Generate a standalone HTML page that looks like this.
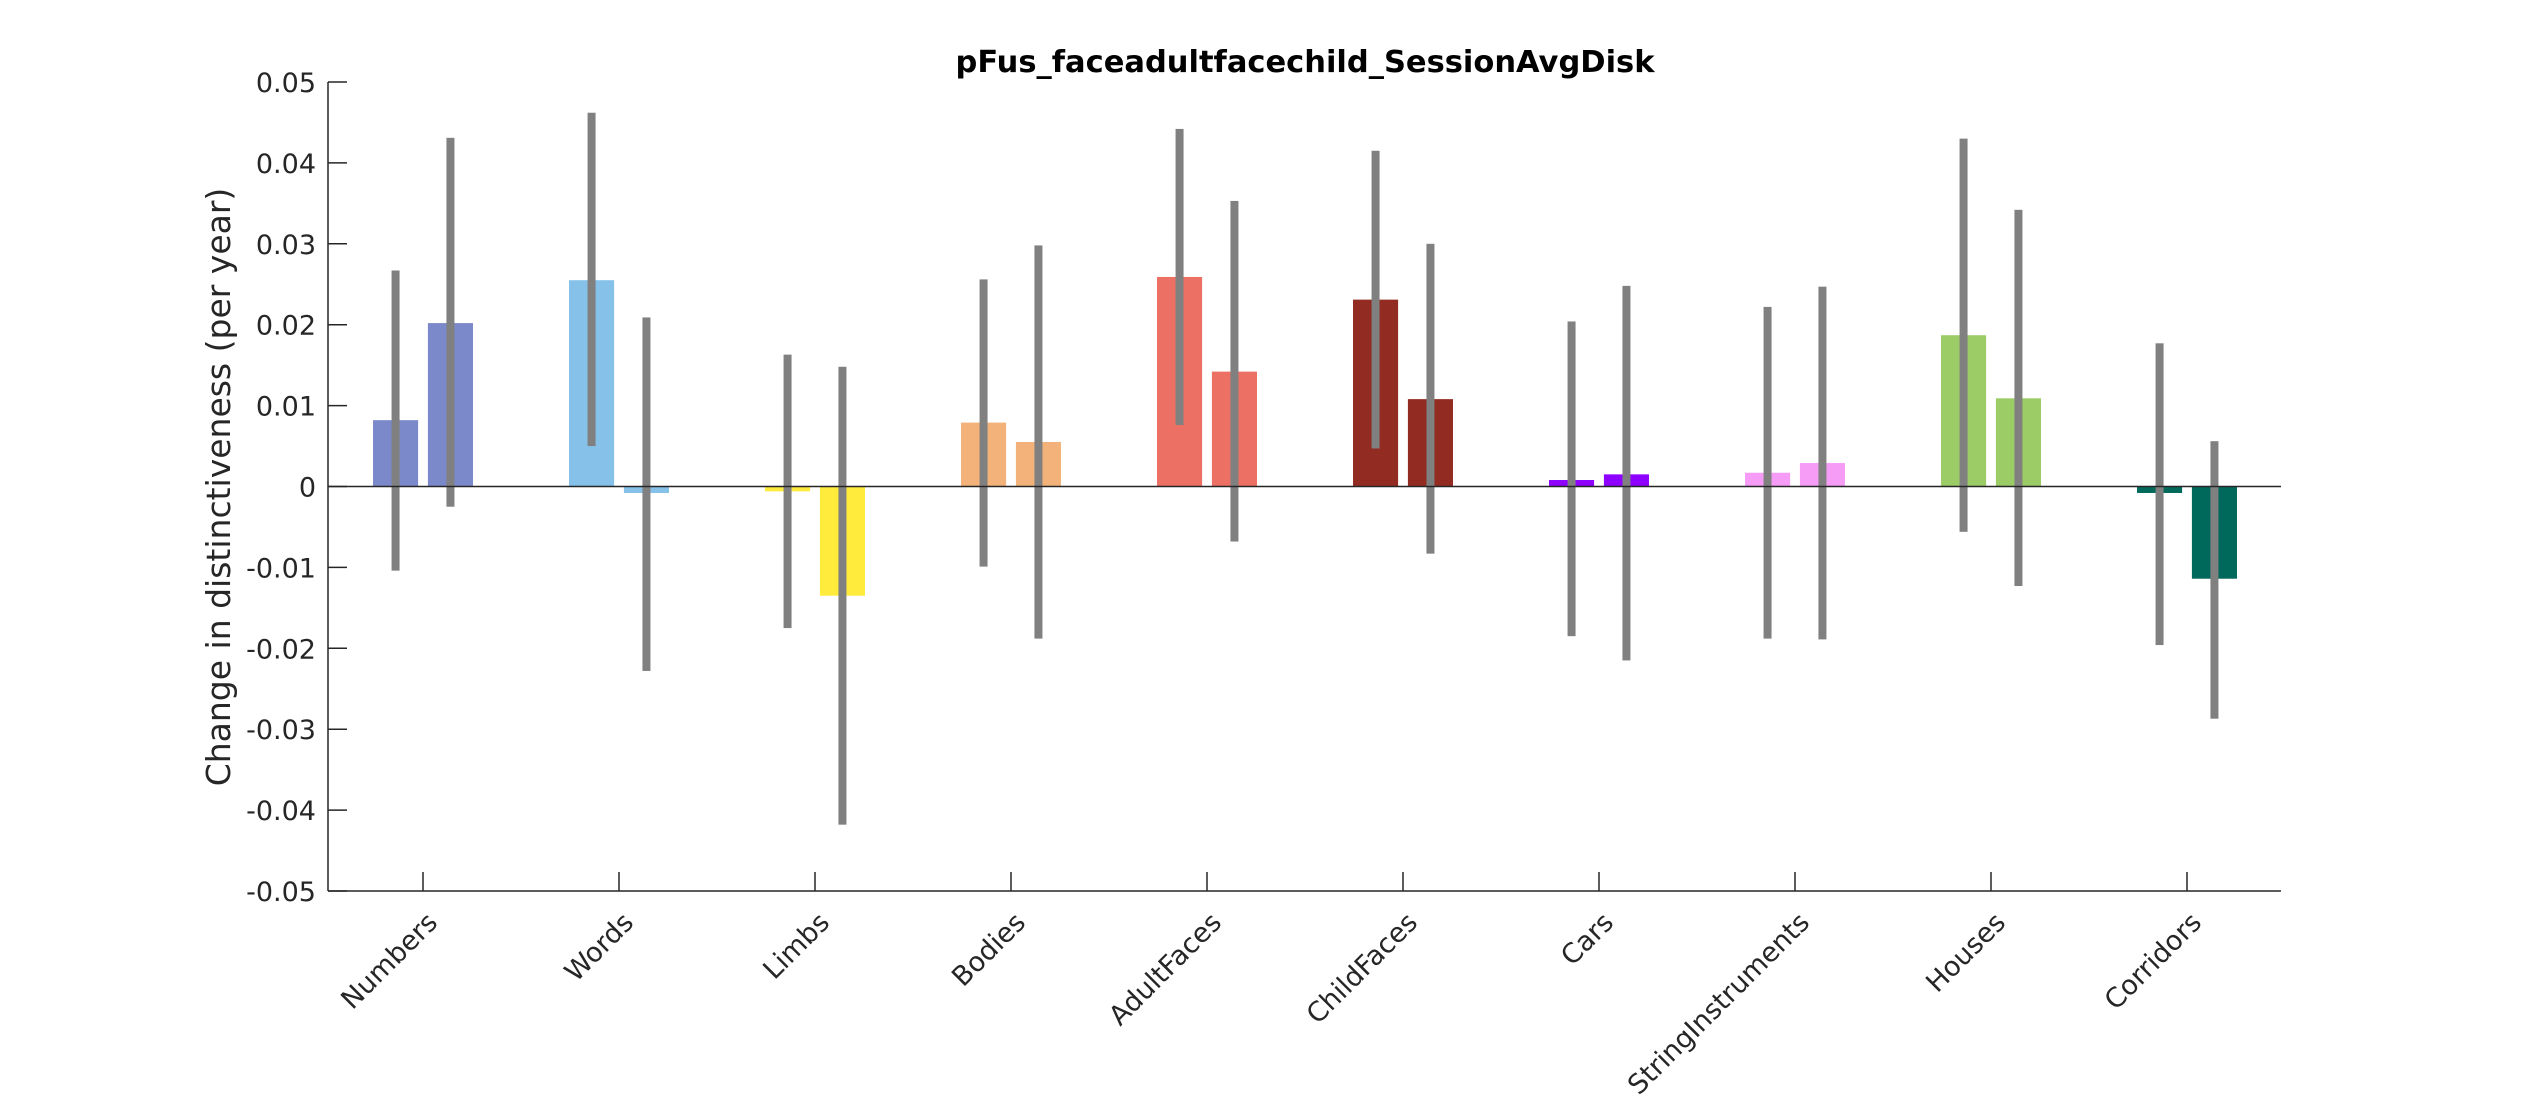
<!DOCTYPE html>
<html><head><meta charset="utf-8"><style>
html,body{margin:0;padding:0;background:#fff;}
svg{display:block;font-family:"DejaVu Sans","Liberation Sans",sans-serif;}
</style></head><body>
<svg id="chart" width="2521" height="1104" viewBox="0 0 2521 1104" xmlns="http://www.w3.org/2000/svg">
<rect width="2521" height="1104" fill="#fff"/>
<text x="1305" y="72" text-anchor="middle" font-size="30.5" font-weight="bold" fill="#000">pFus_faceadultfacechild_SessionAvgDisk</text>
<text transform="translate(230,487) rotate(-90)" text-anchor="middle" font-size="33" fill="#262626">Change in distinctiveness (per year)</text>
<g id="marks"></g>
<g id="axes"></g>
</svg>
<script>
const categories=["Numbers","Words","Limbs","Bodies","AdultFaces","ChildFaces","Cars","StringInstruments","Houses","Corridors"];
const colors=["#7b88c9","#85c1e9","#ffeb3b","#f3b27a","#ec7063","#922b21","#8e00ff","#f69cf7","#9ccc65","#00695c"];
const series1=[0.0082,0.0255,-0.0006,0.0079,0.0259,0.0231,0.0008,0.0017,0.0187,-0.0008];
const series2=[0.0202,-0.0008,-0.0135,0.0055,0.0142,0.0108,0.0015,0.0029,0.0109,-0.0114];
const err1Low=[-0.0104,0.0050,-0.0175,-0.0099,0.0076,0.0047,-0.0185,-0.0188,-0.0056,-0.0196];
const err1High=[0.0267,0.0462,0.0163,0.0256,0.0442,0.0415,0.0204,0.0222,0.0430,0.0177];
const err2Low=[-0.0025,-0.0228,-0.0418,-0.0188,-0.0068,-0.0083,-0.0215,-0.0189,-0.0123,-0.0287];
const err2High=[0.0431,0.0209,0.0148,0.0298,0.0353,0.0300,0.0248,0.0247,0.0342,0.0056];
const yTicks=[-0.05,-0.04,-0.03,-0.02,-0.01,0,0.01,0.02,0.03,0.04,0.05];
const yTickLabels=["-0.05","-0.04","-0.03","-0.02","-0.01","0","0.01","0.02","0.03","0.04","0.05"];

const L=328,R=2281,T=82,B=891;
const x=v=>423+(v-1)*196;
const y=v=>T+(0.05-v)/0.1*(B-T);
const NS="http://www.w3.org/2000/svg";
const marks=document.getElementById('marks'),axes=document.getElementById('axes');
function mk(tag,attrs,parent){const e=document.createElementNS(NS,tag);for(const k in attrs)e.setAttribute(k,attrs[k]);parent.appendChild(e);return e;}
const off=0.14,bw=0.23;
categories.forEach((c,i)=>{
  [[series1,err1Low,err1High,-off,'1'],[series2,err2Low,err2High,off,'2']].forEach(s=>{
    const v=s[0][i],cx=i+1+s[3];
    const r=mk('rect',{x:x(cx-bw/2),y:Math.min(y(v),y(0)),width:x(cx+bw/2)-x(cx-bw/2),height:Math.abs(y(v)-y(0)),fill:colors[i]},marks);
    
    
    const e=mk('rect',{x:x(cx)-4,y:y(s[2][i]),width:8,height:y(s[1][i])-y(s[2][i]),fill:'#808080'},marks);
    
    
  });
});
const z=mk('line',{x1:L,x2:R,y1:y(0),y2:y(0),stroke:'#262626','stroke-width':1.5},axes);


const ya=mk('line',{x1:L,x2:L,y1:T,y2:B,stroke:'#262626','stroke-width':1.5},axes);


const xa=mk('line',{x1:L,x2:R,y1:B,y2:B,stroke:'#262626','stroke-width':1.5},axes);


yTicks.forEach((t,i)=>{
  mk('line',{x1:L,x2:L+19,y1:y(t),y2:y(t),stroke:'#262626','stroke-width':1.5},axes);
  const tx=mk('text',{x:L-12,y:y(t)+10,'text-anchor':'end','font-size':27,fill:'#262626'},axes);
  tx.textContent=yTickLabels[i];
  
  
});
categories.forEach((c,i)=>{
  const px=x(i+1);
  mk('line',{x1:px,x2:px,y1:B,y2:B-19,stroke:'#262626','stroke-width':1.5},axes);
  const tx=mk('text',{transform:`translate(${px+16},${B+33}) rotate(-45)`,'text-anchor':'end','font-size':27,fill:'#262626'},axes);
  tx.textContent=c;
  
  
});
</script>
</body></html>
